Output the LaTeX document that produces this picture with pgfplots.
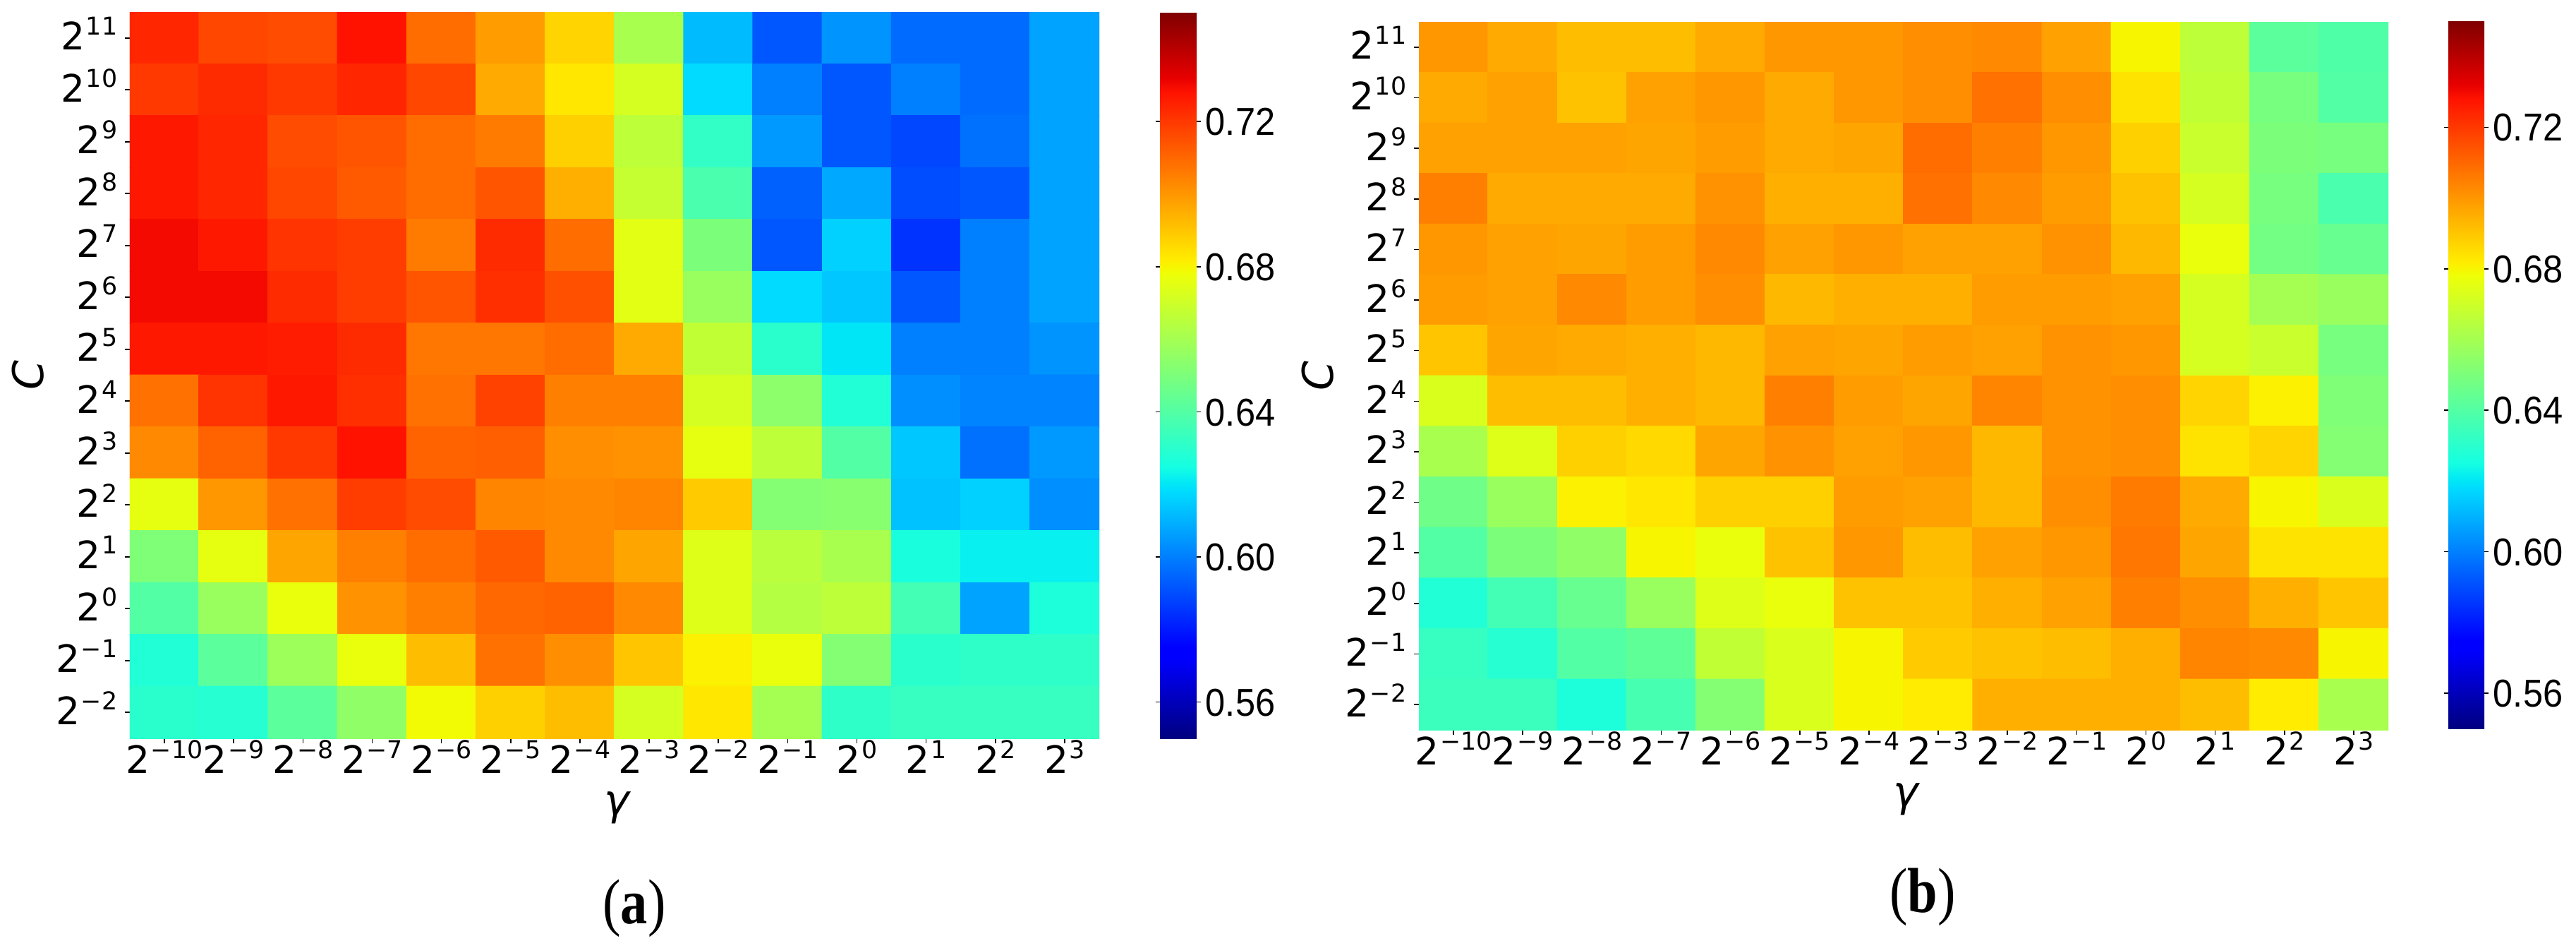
\documentclass[border=0pt]{standalone}
\usepackage{fontspec}
\usepackage{pgfplots}
\pgfplotsset{compat=1.18}
\newfontfamily\dv{DejaVu Sans}
\newfontfamily\ls{Liberation Sans}
\newfontfamily\ser{Liberation Serif}
\newcommand\pw[1]{{\dv\fontsize{13.4}{13.4}\selectfont 2\kern0.3pt\raisebox{5.25pt}{\fontsize{8.7}{8.7}\selectfont #1}}}
\newcommand\cb[1]{\scalebox{.92}[1]{\ls\fontsize{13.75}{13.75}\selectfont #1}}
\pgfplotsset{
 colormap={mjet}{rgb255(0cm)=(0,0,128) rgb255(22cm)=(0,0,255) rgb255(25cm)=(0,0,255) rgb255(68cm)=(0,219,255) rgb255(70cm)=(0,230,247) rgb255(75cm)=(21,255,226) rgb255(128cm)=(238,255,8) rgb255(130cm)=(247,246,0) rgb255(132cm)=(255,236,0) rgb255(178cm)=(255,19,0) rgb255(182cm)=(232,0,0) rgb255(200cm)=(128,0,0)},
 heat/.style={
  scale only axis, width=343.5pt,
  xmin=-0.5, xmax=13.5, ymin=-0.5, ymax=13.5, y dir=reverse,
  colormap name=mjet, point meta min=0.55, point meta max=0.75,
  axis line style={draw=none},
  tick align=outside, tickwidth=1.75pt, tick style={black,line width=.4pt},
  xtick={0,...,13}, ytick={0,...,13},
  xtick pos=bottom, ytick pos=left,
  xticklabels={\pw{−10},\pw{−9},\pw{−8},\pw{−7},\pw{−6},\pw{−5},\pw{−4},\pw{−3},\pw{−2},\pw{−1},\pw{0},\pw{1},\pw{2},\pw{3}},
  yticklabels={\pw{11},\pw{10},\pw{9},\pw{8},\pw{7},\pw{6},\pw{5},\pw{4},\pw{3},\pw{2},\pw{1},\pw{0},\pw{−1},\pw{−2}},
  xticklabel style={anchor=base, inner sep=0pt, yshift=-10.5pt},
  yticklabel style={anchor=base east, inner sep=0pt, xshift=-2.5pt, yshift=-4.25pt},
  xlabel={{\dv\itshape\fontsize{15}{15}\selectfont γ}},
  ylabel={{\dv\itshape\fontsize{15}{15}\selectfont C}},
  every axis x label/.style={at={(axis description cs:0.5,0)}, anchor=base, yshift=-27pt, xshift=.75pt},
  every axis y label/.style={at={(axis description cs:0,0.5)}, rotate=90, anchor=base, yshift=30.5pt},
 },
 cbar/.style={
  colorbar,
  colorbar style={
   at={(parent axis.south east)}, anchor=south west,
   scale only axis,
   axis line style={draw=none},
   ytick={0.56,0.60,0.64,0.68,0.72},
   yticklabels={\cb{0.56},\cb{0.60},\cb{0.64},\cb{0.68},\cb{0.72}},
   tick align=outside, tickwidth=1.6pt, tick style={black,line width=.4pt},
   yticklabel style={anchor=base west, inner sep=0pt, xshift=1.4pt, yshift=-4.9pt},
   #1
  },
 },
}
\pgfplotstableread[row sep=\\]{
x y z\\
0 0 .724\\ 1 0 .717\\ 2 0 .716\\ 3 0 .728\\ 4 0 .709\\ 5 0 .699\\ 6 0 .687\\ 7 0 .661\\ 8 0 .612\\ 9 0 .592\\ 10 0 .604\\ 11 0 .596\\ 12 0 .596\\ 13 0 .607\\
0 1 .720\\ 1 1 .723\\ 2 1 .720\\ 3 1 .724\\ 4 1 .717\\ 5 1 .696\\ 6 1 .683\\ 7 1 .672\\ 8 1 .618\\ 9 1 .600\\ 10 1 .592\\ 11 1 .600\\ 12 1 .596\\ 13 1 .607\\
0 2 .727\\ 1 2 .724\\ 2 2 .716\\ 3 2 .714\\ 4 2 .709\\ 5 2 .706\\ 6 2 .688\\ 7 2 .666\\ 8 2 .632\\ 9 2 .605\\ 10 2 .592\\ 11 2 .589\\ 12 2 .597\\ 13 2 .607\\
0 3 .727\\ 1 3 .724\\ 2 3 .717\\ 3 3 .713\\ 4 3 .709\\ 5 3 .714\\ 6 3 .695\\ 7 3 .668\\ 8 3 .638\\ 9 3 .594\\ 10 3 .608\\ 11 3 .590\\ 12 3 .592\\ 13 3 .607\\
0 4 .730\\ 1 4 .727\\ 2 4 .721\\ 3 4 .719\\ 4 4 .706\\ 5 4 .723\\ 6 4 .709\\ 7 4 .675\\ 8 4 .650\\ 9 4 .592\\ 10 4 .616\\ 11 4 .585\\ 12 4 .600\\ 13 4 .607\\
0 5 .730\\ 1 5 .730\\ 2 5 .723\\ 3 5 .719\\ 4 5 .714\\ 5 5 .722\\ 6 5 .715\\ 7 5 .675\\ 8 5 .657\\ 9 5 .618\\ 10 5 .614\\ 11 5 .592\\ 12 5 .600\\ 13 5 .607\\
0 6 .727\\ 1 6 .727\\ 2 6 .726\\ 3 6 .723\\ 4 6 .707\\ 5 6 .707\\ 6 6 .709\\ 7 6 .696\\ 8 6 .667\\ 9 6 .630\\ 10 6 .620\\ 11 6 .600\\ 12 6 .600\\ 13 6 .604\\
0 7 .708\\ 1 7 .721\\ 2 7 .727\\ 3 7 .722\\ 4 7 .708\\ 5 7 .718\\ 6 7 .705\\ 7 7 .705\\ 8 7 .672\\ 9 7 .654\\ 10 7 .628\\ 11 7 .603\\ 12 7 .601\\ 13 7 .601\\
0 8 .703\\ 1 8 .711\\ 2 8 .720\\ 3 8 .728\\ 4 8 .711\\ 5 8 .712\\ 6 8 .702\\ 7 8 .701\\ 8 8 .676\\ 9 8 .666\\ 10 8 .640\\ 11 8 .614\\ 12 8 .597\\ 13 8 .605\\
0 9 .676\\ 1 9 .700\\ 2 9 .708\\ 3 9 .719\\ 4 9 .716\\ 5 9 .704\\ 6 9 .703\\ 7 9 .704\\ 8 9 .689\\ 9 9 .652\\ 10 9 .653\\ 11 9 .613\\ 12 9 .616\\ 13 9 .603\\
0 10 .651\\ 1 10 .676\\ 2 10 .697\\ 3 10 .705\\ 4 10 .709\\ 5 10 .713\\ 6 10 .703\\ 7 10 .697\\ 8 10 .674\\ 9 10 .665\\ 10 10 .661\\ 11 10 .626\\ 12 10 .622\\ 13 10 .622\\
0 11 .640\\ 1 11 .657\\ 2 11 .677\\ 3 11 .701\\ 4 11 .705\\ 5 11 .710\\ 6 11 .711\\ 7 11 .703\\ 8 11 .674\\ 9 11 .664\\ 10 11 .666\\ 11 11 .636\\ 12 11 .607\\ 13 11 .627\\
0 12 .628\\ 1 12 .642\\ 2 12 .658\\ 3 12 .677\\ 4 12 .692\\ 5 12 .708\\ 6 12 .702\\ 7 12 .690\\ 8 12 .681\\ 9 12 .677\\ 10 12 .652\\ 11 12 .630\\ 12 12 .631\\ 13 12 .631\\
0 13 .630\\ 1 13 .629\\ 2 13 .642\\ 3 13 .655\\ 4 13 .679\\ 5 13 .688\\ 6 13 .692\\ 7 13 .672\\ 8 13 .683\\ 9 13 .660\\ 10 13 .631\\ 11 13 .633\\ 12 13 .633\\ 13 13 .633\\
}\dataA
\pgfplotstableread[row sep=\\]{
x y z\\
0 0 .700\\ 1 0 .696\\ 2 0 .692\\ 3 0 .692\\ 4 0 .696\\ 5 0 .700\\ 6 0 .700\\ 7 0 .702\\ 8 0 .703\\ 9 0 .698\\ 10 0 .680\\ 11 0 .666\\ 12 0 .642\\ 13 0 .639\\
0 1 .696\\ 1 1 .698\\ 2 1 .691\\ 3 1 .698\\ 4 1 .700\\ 5 1 .696\\ 6 1 .700\\ 7 1 .702\\ 8 1 .708\\ 9 1 .702\\ 10 1 .684\\ 11 1 .667\\ 12 1 .649\\ 13 1 .640\\
0 2 .698\\ 1 2 .698\\ 2 2 .698\\ 3 2 .697\\ 4 2 .699\\ 5 2 .696\\ 6 2 .697\\ 7 2 .709\\ 8 2 .705\\ 9 2 .700\\ 10 2 .688\\ 11 2 .669\\ 12 2 .650\\ 13 2 .649\\
0 3 .705\\ 1 3 .696\\ 2 3 .696\\ 3 3 .696\\ 4 3 .701\\ 5 3 .695\\ 6 3 .695\\ 7 3 .708\\ 8 3 .703\\ 9 3 .699\\ 10 3 .691\\ 11 3 .672\\ 12 3 .649\\ 13 3 .638\\
0 4 .700\\ 1 4 .698\\ 2 4 .697\\ 3 4 .699\\ 4 4 .703\\ 5 4 .698\\ 6 4 .700\\ 7 4 .698\\ 8 4 .698\\ 9 4 .701\\ 10 4 .693\\ 11 4 .677\\ 12 4 .648\\ 13 4 .645\\
0 5 .699\\ 1 5 .698\\ 2 5 .703\\ 3 5 .699\\ 4 5 .702\\ 5 5 .693\\ 6 5 .695\\ 7 5 .695\\ 8 5 .699\\ 9 5 .699\\ 10 5 .698\\ 11 5 .672\\ 12 5 .660\\ 13 5 .657\\
0 6 .690\\ 1 6 .697\\ 2 6 .696\\ 3 6 .695\\ 4 6 .693\\ 5 6 .698\\ 6 6 .697\\ 7 6 .699\\ 8 6 .698\\ 9 6 .701\\ 10 6 .700\\ 11 6 .672\\ 12 6 .669\\ 13 6 .649\\
0 7 .673\\ 1 7 .692\\ 2 7 .692\\ 3 7 .695\\ 4 7 .693\\ 5 7 .705\\ 6 7 .699\\ 7 7 .697\\ 8 7 .704\\ 9 7 .701\\ 10 7 .702\\ 11 7 .687\\ 12 7 .681\\ 13 7 .651\\
0 8 .661\\ 1 8 .674\\ 2 8 .688\\ 3 8 .686\\ 4 8 .697\\ 5 8 .701\\ 6 8 .698\\ 7 8 .700\\ 8 8 .693\\ 9 8 .701\\ 10 8 .702\\ 11 8 .684\\ 12 8 .687\\ 13 8 .652\\
0 9 .647\\ 1 9 .657\\ 2 9 .681\\ 3 9 .683\\ 4 9 .688\\ 5 9 .688\\ 6 9 .699\\ 7 9 .698\\ 8 9 .693\\ 9 9 .702\\ 10 9 .706\\ 11 9 .696\\ 12 9 .680\\ 13 9 .673\\
0 10 .640\\ 1 10 .650\\ 2 10 .655\\ 3 10 .680\\ 4 10 .677\\ 5 10 .691\\ 6 10 .700\\ 7 10 .692\\ 8 10 .698\\ 9 10 .700\\ 10 10 .707\\ 11 10 .697\\ 12 10 .684\\ 13 10 .684\\
0 11 .628\\ 1 11 .636\\ 2 11 .645\\ 3 11 .657\\ 4 11 .674\\ 5 11 .677\\ 6 11 .691\\ 7 11 .691\\ 8 11 .695\\ 9 11 .698\\ 10 11 .705\\ 11 11 .702\\ 12 11 .695\\ 13 11 .690\\
0 12 .633\\ 1 12 .629\\ 2 12 .640\\ 3 12 .643\\ 4 12 .667\\ 5 12 .673\\ 6 12 .680\\ 7 12 .689\\ 8 12 .691\\ 9 12 .692\\ 10 12 .695\\ 11 12 .704\\ 12 12 .703\\ 13 12 .680\\
0 13 .634\\ 1 13 .634\\ 2 13 .627\\ 3 13 .637\\ 4 13 .652\\ 5 13 .673\\ 6 13 .680\\ 7 13 .682\\ 8 13 .695\\ 9 13 .695\\ 10 13 .695\\ 11 13 .692\\ 12 13 .682\\ 13 13 .661\\
}\dataB
\begin{document}
\begin{tikzpicture}
\path[use as bounding box] (0,0) rectangle (912.75pt,335.5pt);
\begin{axis}[heat, at={(46pt,74pt)}, anchor=south west, height=257.25pt,
  cbar={xshift=12.96pt, width=13pt, height=257pt}]
\addplot[matrix plot*, mesh/cols=14, mesh/ordering=x varies, point meta=explicit] table[x=x,y=y,meta=z] {\dataA};
\end{axis}
\begin{axis}[heat, at={(502.75pt,77pt)}, anchor=south west, height=250.75pt,
  cbar={xshift=12.71pt, yshift=.5pt, width=12.75pt, height=250.5pt}]
\addplot[matrix plot*, mesh/cols=14, mesh/ordering=x varies, point meta=explicit] table[x=x,y=y,meta=z] {\dataB};
\end{axis}
\node[anchor=base, inner sep=0pt] at (224.75pt,8.5pt) {\scalebox{.85}[1]{\ser\fontsize{22.5}{22.5}\selectfont (\textbf{a})}};
\node[anchor=base, inner sep=0pt] at (681.25pt,12.5pt) {\scalebox{.85}[1]{\ser\fontsize{22.5}{22.5}\selectfont (\textbf{b})}};
\end{tikzpicture}
\end{document}
